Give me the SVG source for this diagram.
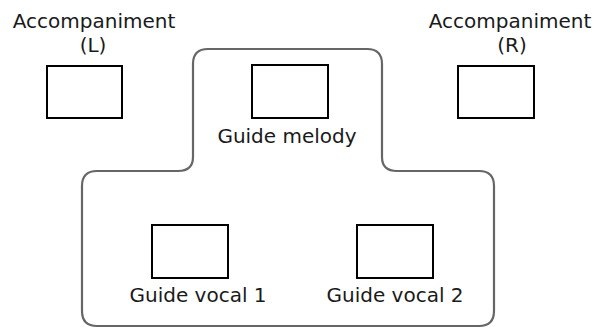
<svg xmlns="http://www.w3.org/2000/svg" width="605" height="330" viewBox="0 0 605 330">
<style>
.box{fill:#fff;stroke:#000;stroke-width:2}
.outline{fill:none;stroke:#666;stroke-width:2.2}
text{font-family:"DejaVu Sans",sans-serif;font-size:20px;fill:#1a1a1a;text-anchor:middle}
</style>
<rect width="605" height="330" fill="#fff"/>
<g id="connectors">
<path class="outline" d="M208,49 H367 Q382,49 382,64 V157 Q382,171 397,171 H479 Q494,171 494,186 V311 Q494,326 479,326 H97 Q82,326 82,311 V186 Q82,171 97,171 H178 Q193,171 193,157 V64 Q193,49 208,49 Z"/>
</g>
<g id="acc-l">
<rect class="box" x="47" y="66" width="75" height="52"/>
<text x="94" y="28">Accompaniment</text>
<text x="93" y="52">(L)</text>
</g>
<g id="acc-r">
<rect class="box" x="458" y="66" width="76" height="52"/>
<text x="510" y="28">Accompaniment</text>
<text x="512" y="52">(R)</text>
</g>
<g id="guide-melody">
<rect class="box" x="252" y="65" width="76" height="53"/>
<text x="287" y="143">Guide melody</text>
</g>
<g id="guide-vocal-1">
<rect class="box" x="152" y="225" width="76" height="53"/>
<text x="198" y="302">Guide vocal 1</text>
</g>
<g id="guide-vocal-2">
<rect class="box" x="357" y="225" width="76" height="53"/>
<text x="395" y="302">Guide vocal 2</text>
</g>
</svg>
